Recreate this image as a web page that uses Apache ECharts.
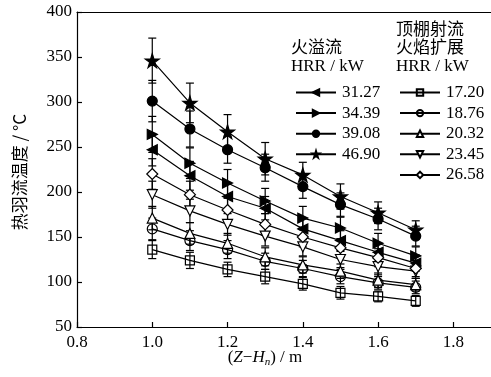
<!DOCTYPE html>
<html>
<head>
<meta charset="utf-8">
<script src="https://cdn.jsdelivr.net/npm/echarts@6/dist/echarts.min.js"></script>
<style>
  html, body { margin: 0; padding: 0; background: #fff; }
  #chart { width: 491px; height: 377px; }
</style>
</head>
<body>
<div id="chart"></div>
<script>
// Distance above the fire source (Z - Hn), metres
const heights = [1.0, 1.1, 1.2, 1.3, 1.4, 1.5, 1.6, 1.7];

// Spill plume (火溢流) series, HRR in kW
const spillNames = ['31.27', '34.39', '39.08', '46.90'];
const spill3127 = [247, 218, 195, 182, 159, 146, 133, 121];
const spill3439 = [264, 232, 210, 190, 171, 160, 143, 129];
const spill3908 = [301, 270, 247, 227, 206, 186, 170, 151];
const spill4690 = [346, 299, 267, 237, 219, 195, 177, 158];
const spill3127Err = [18, 16, 14, 13, 12, 11, 10, 9];
const spill3439Err = [20, 17, 15, 14, 13, 12, 11, 10];
const spill3908Err = [23, 20, 15, 15, 13, 13, 12, 11];
const spill4690Err = [25, 22, 19, 18, 14, 14, 12, 10];

// Ceiling jet + flame spread (顶棚射流 火焰扩展) series, HRR in kW
const jetNames = ['17.20', '18.76', '20.32', '23.45', '26.58'];
const jet1720 = [136, 124, 114, 106, 98, 88, 84, 79];
const jet1876 = [159, 146, 136, 123, 115, 106, 99, 94];
const jet2032 = [171, 154, 143, 128, 119, 112, 102, 97];
const jet2345 = [197, 179, 164, 151, 139, 125, 117, 112];
const jet2658 = [220, 197, 180, 164, 150, 138, 127, 115];
const jet1720Err = [10, 9, 8, 8, 7, 7, 6, 6];
const jet1876Err = [12, 11, 10, 9, 9, 8, 7, 7];
const jet2032Err = [13, 12, 11, 10, 9, 8, 8, 7];
const jet2345Err = [15, 13, 12, 11, 10, 9, 9, 8];
const jet2658Err = [17, 15, 13, 12, 11, 10, 10, 9];

// Axis ticks
const xTicks = [0.8, 1.0, 1.2, 1.4, 1.6, 1.8];
const yTicks = [50, 100, 150, 200, 250, 300, 350, 400];

const SERIF = '"Liberation Serif", "DejaVu Serif", "Noto Sans CJK SC", serif';
const CJK = '"Noto Sans CJK SC", "Liberation Serif", serif';

const STAR = 'path://M50,0L61,35L98,35L68,57L79,91L50,70L21,91L32,57L2,35L39,35Z';
const LEFT_TRI = 'path://M0,5L10,0L10,10Z';
const RIGHT_TRI = 'path://M10,5L0,0L0,10Z';
const DOWN_TRI = 'path://M0,0L10,0L5,9Z';

const groups = [
  { name: spillNames[0], vals: spill3127, errs: spill3127Err, symbol: LEFT_TRI, size: 10, fill: '#000' },
  { name: spillNames[1], vals: spill3439, errs: spill3439Err, symbol: RIGHT_TRI, size: 10, fill: '#000' },
  { name: spillNames[2], vals: spill3908, errs: spill3908Err, symbol: 'circle', size: 10, fill: '#000' },
  { name: spillNames[3], vals: spill4690, errs: spill4690Err, symbol: STAR, size: 14, fill: '#000' },
  { name: jetNames[0], vals: jet1720, errs: jet1720Err, symbol: 'rect', size: 9, fill: 'rgba(255,255,255,0)' },
  { name: jetNames[1], vals: jet1876, errs: jet1876Err, symbol: 'circle', size: 10, fill: 'rgba(255,255,255,0)' },
  { name: jetNames[2], vals: jet2032, errs: jet2032Err, symbol: 'triangle', size: 10, fill: '#fff' },
  { name: jetNames[3], vals: jet2345, errs: jet2345Err, symbol: DOWN_TRI, size: 10, fill: '#fff' },
  { name: jetNames[4], vals: jet2658, errs: jet2658Err, symbol: 'diamond', size: 11, fill: '#fff' }
];

function errorBarItem(params, api) {
  const x = api.value(0), y = api.value(1), e = api.value(2);
  const top = api.coord([x, y + e]);
  const bot = api.coord([x, y - e]);
  const hw = 4;
  const st = { stroke: '#000', lineWidth: 1.2, fill: null };
  return {
    type: 'group',
    children: [
      { type: 'line', shape: { x1: top[0], y1: top[1], x2: bot[0], y2: bot[1] }, style: st },
      { type: 'line', shape: { x1: top[0] - hw, y1: top[1], x2: top[0] + hw, y2: top[1] }, style: st },
      { type: 'line', shape: { x1: bot[0] - hw, y1: bot[1], x2: bot[0] + hw, y2: bot[1] }, style: st }
    ]
  };
}

const series = [];
groups.forEach(g => {
  series.push({
    type: 'custom',
    name: g.name + ' err',
    renderItem: errorBarItem,
    data: heights.map((h, i) => [h, g.vals[i], g.errs[i]]),
    z: 1,
    silent: true
  });
});
groups.forEach(g => {
  series.push({
    type: 'line',
    name: g.name,
    data: heights.map((h, i) => [h, g.vals[i]]),
    symbol: g.symbol,
    symbolSize: g.size,
    showAllSymbol: true,
    lineStyle: { color: '#000', width: 1.2 },
    itemStyle: { color: g.fill, borderColor: '#000', borderWidth: 1.2 },
    z: 3,
    animation: false
  });
});

const legendCommon = {
  orient: 'vertical',
  itemWidth: 40,
  itemHeight: 8,
  itemGap: 3.6,
  textStyle: { fontFamily: SERIF, fontSize: 17, color: '#000', lineHeight: 16, padding: [0, 0, 0, 1] },
  inactiveColor: '#000'
};

const axisLineStyle = { show: true, lineStyle: { color: '#000', width: 1.2 } };

const chart = echarts.init(document.getElementById('chart'));
chart.setOption({
  animation: false,
  backgroundColor: '#fff',
  grid: { left: 77, top: 12, right: -3, bottom: 50 },
  xAxis: [
    {
      type: 'value',
      min: xTicks[0],
      max: 1.9,
      interval: 0.2,
      axisLine: axisLineStyle,
      axisTick: { show: true, inside: true, length: 5, lineStyle: { color: '#000', width: 1.2 } },
      splitLine: { show: false },
      axisLabel: {
        color: '#000', fontFamily: SERIF, fontSize: 17, margin: 7,
        showMaxLabel: false,
        formatter: v => xTicks.some(t => Math.abs(t - v) < 1e-6) ? v.toFixed(1) : ''
      }
    },
    {
      // plain frame line along the top of the plot
      type: 'value', position: 'top',
      min: xTicks[0], max: 1.9, interval: 0.2,
      axisLine: axisLineStyle,
      axisTick: { show: false }, axisLabel: { show: false }, splitLine: { show: false }
    }
  ],
  yAxis: {
    type: 'value',
    min: yTicks[0],
    max: yTicks[yTicks.length - 1],
    interval: 50,
    axisLine: axisLineStyle,
    axisTick: { show: true, inside: true, length: 5, lineStyle: { color: '#000', width: 1.2 } },
    splitLine: { show: false },
    axisLabel: { color: '#000', fontFamily: SERIF, fontSize: 17, margin: 5 }
  },
  legend: [
    Object.assign({}, legendCommon, { data: spillNames, left: 290, top: 79 }),
    Object.assign({}, legendCommon, { data: jetNames, left: 394, top: 79 })
  ],
  graphic: [
    { type: 'text', left: 291, top: 38, style: { text: '火溢流', font: '17px ' + CJK, fill: '#000' } },
    { type: 'text', left: 291, top: 58, style: { text: 'HRR / kW', font: '17px ' + SERIF, fill: '#000' } },
    { type: 'text', left: 396, top: 20, style: { text: '顶棚射流', font: '17px ' + CJK, fill: '#000' } },
    { type: 'text', left: 396, top: 38, style: { text: '火焰扩展', font: '17px ' + CJK, fill: '#000' } },
    { type: 'text', left: 396, top: 58, style: { text: 'HRR / kW', font: '17px ' + SERIF, fill: '#000' } },
    {
      type: 'text', x: 20, y: 172, rotation: Math.PI / 2,
      style: {
        text: '热羽流温度 / °C', font: '17px ' + CJK, fill: '#000',
        align: 'center', verticalAlign: 'middle'
      }
    },
    {
      type: 'text', x: 265, y: 358,
      style: {
        text: '(' + '{i|Z}' + '−' + '{i|H}' + '{sub|n}' + ') / m',
        rich: {
          i: { fontStyle: 'italic', fontFamily: SERIF, fontSize: 17 },
          sub: { fontStyle: 'italic', fontFamily: SERIF, fontSize: 11, padding: [8, 0, 0, 0] }
        },
        fontFamily: SERIF, fontSize: 17, fill: '#000',
        align: 'center', verticalAlign: 'middle'
      }
    }
  ],
  series: series
});
</script>
</body>
</html>
